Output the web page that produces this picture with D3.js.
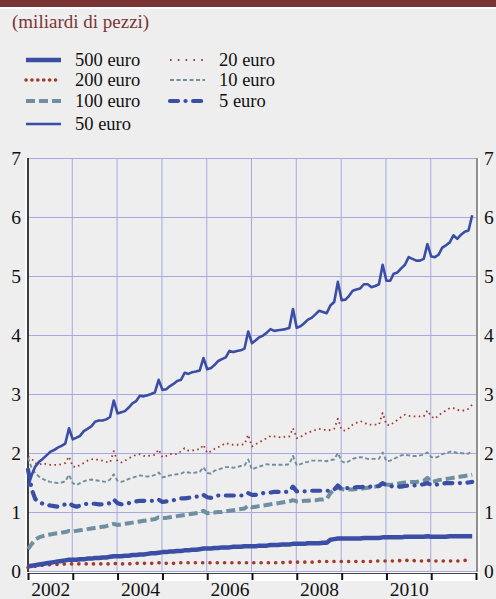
<!DOCTYPE html>
<html><head><meta charset="utf-8">
<script src="https://cdn.jsdelivr.net/npm/d3@7/dist/d3.min.js"></script>
<style>
html,body{margin:0;padding:0;background:#eeeeee;}
svg{display:block;font-family:"Liberation Serif","Times New Roman",serif;}
svg text{font-family:"Liberation Serif","Times New Roman",serif;}
</style></head>
<body><svg id="c" width="496" height="599"></svg>
<script>
const subtitle = "(miliardi di pezzi)";
const startMonth = new Date(2002, 0, 1);
const endMonth = new Date(2012, 0, 1);
const yTicks = [0, 1, 2, 3, 4, 5, 6, 7];
const yearLabels = [2002, 2004, 2006, 2008, 2010];

const e500 = [
0.08,0.09,0.10,0.11,0.12,0.13,0.14,0.15,0.16,0.17,0.18,0.19,
0.19,0.19,0.20,0.20,0.21,0.21,0.22,0.22,0.23,0.23,0.24,0.25,
0.25,0.25,0.26,0.26,0.27,0.27,0.28,0.28,0.29,0.30,0.30,0.31,
0.32,0.32,0.33,0.33,0.34,0.34,0.35,0.35,0.36,0.36,0.37,0.38,
0.38,0.38,0.39,0.39,0.40,0.40,0.40,0.41,0.41,0.41,0.42,0.42,
0.42,0.42,0.43,0.43,0.43,0.44,0.44,0.44,0.45,0.45,0.45,0.46,
0.46,0.46,0.46,0.47,0.47,0.47,0.47,0.48,0.48,0.53,0.54,0.55,
0.55,0.55,0.55,0.55,0.55,0.55,0.56,0.56,0.56,0.56,0.56,0.57,
0.57,0.57,0.57,0.57,0.57,0.58,0.58,0.58,0.58,0.58,0.58,0.59,
0.58,0.58,0.58,0.58,0.58,0.59,0.59,0.59,0.59,0.59,0.59,0.59];
const e200 = [
0.06,0.07,0.08,0.09,0.10,0.10,0.11,0.11,0.11,0.11,0.12,0.12,
0.12,0.12,0.12,0.12,0.12,0.12,0.12,0.12,0.12,0.12,0.12,0.13,
0.12,0.12,0.12,0.12,0.13,0.13,0.13,0.13,0.13,0.13,0.13,0.14,
0.13,0.13,0.13,0.13,0.14,0.14,0.14,0.14,0.14,0.14,0.14,0.14,
0.14,0.14,0.14,0.14,0.14,0.14,0.14,0.14,0.14,0.14,0.14,0.14,
0.14,0.14,0.14,0.14,0.14,0.14,0.14,0.14,0.14,0.15,0.15,0.15,
0.15,0.15,0.15,0.15,0.15,0.15,0.16,0.16,0.16,0.16,0.16,0.16,
0.16,0.16,0.16,0.16,0.16,0.16,0.16,0.16,0.16,0.17,0.17,0.17,
0.17,0.17,0.17,0.17,0.18,0.18,0.18,0.18,0.17,0.17,0.17,0.18,
0.17,0.17,0.17,0.17,0.17,0.17,0.17,0.17,0.17,0.18,0.18,0.18];
const e100 = [
0.37,0.46,0.53,0.57,0.59,0.61,0.62,0.63,0.64,0.65,0.66,0.68,
0.67,0.68,0.69,0.70,0.71,0.72,0.73,0.74,0.75,0.76,0.78,0.80,
0.78,0.79,0.80,0.81,0.82,0.83,0.84,0.85,0.86,0.87,0.88,0.91,
0.90,0.90,0.91,0.92,0.93,0.94,0.95,0.96,0.97,0.98,0.99,1.02,
0.98,0.99,0.99,1.00,1.00,1.01,1.02,1.03,1.04,1.05,1.06,1.11,
1.08,1.09,1.10,1.11,1.12,1.13,1.14,1.15,1.16,1.17,1.18,1.20,
1.18,1.18,1.19,1.19,1.20,1.20,1.21,1.21,1.22,1.32,1.38,1.41,
1.39,1.38,1.38,1.38,1.39,1.39,1.40,1.41,1.42,1.43,1.44,1.51,
1.46,1.46,1.47,1.48,1.49,1.50,1.50,1.51,1.51,1.52,1.53,1.58,
1.51,1.52,1.54,1.55,1.56,1.57,1.58,1.59,1.60,1.61,1.62,1.63];
const e50 = [
1.43,1.63,1.77,1.85,1.90,1.96,2.02,2.05,2.09,2.12,2.16,2.42,
2.23,2.26,2.29,2.37,2.41,2.45,2.53,2.55,2.55,2.57,2.61,2.89,
2.67,2.69,2.71,2.77,2.84,2.88,2.97,2.96,2.98,3.00,3.03,3.24,
3.07,3.08,3.13,3.17,3.22,3.24,3.36,3.34,3.37,3.38,3.40,3.61,
3.42,3.44,3.49,3.56,3.59,3.62,3.73,3.71,3.73,3.74,3.77,4.06,
3.86,3.91,3.96,3.99,4.04,4.10,4.07,4.08,4.09,4.10,4.12,4.44,
4.12,4.15,4.20,4.26,4.29,4.35,4.41,4.39,4.37,4.50,4.56,4.90,
4.59,4.60,4.66,4.75,4.77,4.79,4.86,4.86,4.81,4.83,4.86,5.19,
4.92,4.92,5.04,5.06,5.13,5.19,5.32,5.29,5.26,5.26,5.29,5.54,
5.33,5.32,5.36,5.48,5.52,5.57,5.69,5.63,5.70,5.75,5.77,6.03];
const e20 = [
1.94,1.90,1.83,1.80,1.83,1.81,1.80,1.80,1.80,1.81,1.83,1.94,
1.77,1.76,1.80,1.83,1.87,1.89,1.90,1.88,1.87,1.85,1.84,2.03,
1.86,1.84,1.87,1.91,1.94,1.97,1.98,1.95,1.95,1.96,1.97,2.06,
1.93,1.95,1.98,1.98,1.98,2.03,2.08,2.04,2.04,2.06,2.06,2.14,
2.00,2.03,2.07,2.10,2.13,2.17,2.15,2.14,2.14,2.14,2.15,2.31,
2.11,2.15,2.18,2.22,2.25,2.29,2.28,2.27,2.26,2.28,2.28,2.42,
2.25,2.27,2.32,2.34,2.37,2.39,2.41,2.40,2.38,2.39,2.41,2.58,
2.39,2.38,2.42,2.48,2.51,2.54,2.52,2.48,2.48,2.48,2.48,2.68,
2.48,2.47,2.52,2.56,2.61,2.65,2.63,2.62,2.62,2.62,2.62,2.72,
2.62,2.58,2.64,2.68,2.72,2.76,2.76,2.73,2.72,2.72,2.75,2.82];
const e10 = [
1.92,1.74,1.66,1.60,1.56,1.53,1.51,1.50,1.49,1.50,1.52,1.63,
1.49,1.46,1.49,1.52,1.54,1.55,1.54,1.53,1.52,1.51,1.55,1.64,
1.53,1.51,1.53,1.56,1.58,1.60,1.62,1.61,1.60,1.61,1.63,1.67,
1.59,1.60,1.62,1.63,1.64,1.65,1.68,1.67,1.66,1.67,1.68,1.76,
1.66,1.65,1.70,1.72,1.74,1.76,1.76,1.75,1.76,1.78,1.79,1.89,
1.72,1.75,1.77,1.79,1.81,1.80,1.80,1.80,1.80,1.80,1.81,1.95,
1.79,1.81,1.84,1.85,1.87,1.87,1.87,1.87,1.86,1.88,1.89,2.00,
1.86,1.83,1.86,1.90,1.92,1.93,1.92,1.90,1.90,1.90,1.90,2.01,
1.86,1.87,1.90,1.93,1.96,1.97,1.96,1.95,1.95,1.96,1.97,2.01,
1.93,1.92,1.94,1.98,2.00,2.02,2.02,2.00,2.00,1.99,1.99,2.04];
const e5 = [
1.72,1.38,1.22,1.17,1.14,1.12,1.11,1.10,1.09,1.11,1.13,1.15,
1.11,1.09,1.11,1.13,1.14,1.14,1.14,1.13,1.13,1.14,1.15,1.21,
1.15,1.13,1.14,1.15,1.17,1.18,1.19,1.19,1.19,1.19,1.19,1.21,
1.17,1.18,1.19,1.20,1.22,1.23,1.23,1.24,1.25,1.26,1.26,1.29,
1.25,1.24,1.26,1.28,1.28,1.28,1.28,1.28,1.28,1.28,1.28,1.32,
1.29,1.29,1.31,1.32,1.33,1.33,1.34,1.34,1.34,1.34,1.35,1.43,
1.35,1.35,1.35,1.35,1.36,1.36,1.36,1.36,1.36,1.36,1.38,1.45,
1.39,1.40,1.41,1.41,1.42,1.42,1.43,1.43,1.43,1.43,1.44,1.49,
1.45,1.44,1.43,1.43,1.43,1.44,1.45,1.45,1.45,1.46,1.47,1.49,
1.46,1.46,1.47,1.48,1.49,1.49,1.49,1.49,1.49,1.49,1.50,1.51];

const seriesNames = ["500 euro","200 euro","100 euro","50 euro","20 euro","10 euro","5 euro"];
const seriesValues = [e500, e200, e100, e50, e20, e10, e5];

const FONT = "Liberation Serif";
const BLUE = "#3a4ea6", RED = "#a23b2e", GREY = "#6f8fa0";
const styles = {
  "500 euro": {color: BLUE, w: 4.5, dash: null, cap: "butt"},
  "200 euro": {color: RED, w: 3.6, dash: "0.1 7.2", cap: "round"},
  "100 euro": {color: GREY, w: 4, dash: "9 4", cap: "butt"},
  "50 euro": {color: BLUE, w: 2.6, dash: null, cap: "butt"},
  "20 euro": {color: RED, w: 1.8, dash: "1.6 3.4", cap: "butt"},
  "10 euro": {color: GREY, w: 1.9, dash: "4 2.5", cap: "butt"},
  "5 euro": {color: BLUE, w: 4.2, dash: "8 7.5 0.1 7.5", cap: "round"}
};

const months = d3.timeMonth.range(startMonth, endMonth);
const svg = d3.select("#c");
const L = 28, R = 476, T = 158, B = 571;

svg.append("rect").attr("x",0).attr("y",0).attr("width",496).attr("height",599).attr("fill","#eeeeee");
svg.append("rect").attr("x",0).attr("y",0).attr("width",496).attr("height",7).attr("fill","#7b3333");
svg.append("rect").attr("x",0).attr("y",7).attr("width",496).attr("height",2).attr("fill","#ffffff");

svg.append("text").attr("x",12).attr("y",28).attr("fill","#7b3535").attr("font-family",FONT).attr("font-size",19).text(subtitle);

const x = d3.scaleTime().domain([startMonth, endMonth]).range([L, R]);
const y = d3.scaleLinear().domain([0, 7]).range([B, T]);

// grid
const gGrid = svg.append("g");
gGrid.append("g").attr("transform",`translate(${L},0)`)
  .call(d3.axisLeft(y).tickValues(yTicks).tickSize(-(R-L)).tickFormat(""))
  .call(g => { g.select(".domain").remove(); g.selectAll("line").attr("stroke","#a8a8e2").attr("stroke-width",1); });
gGrid.append("g").attr("transform",`translate(-1,${B})`)
  .call(d3.axisBottom(x).ticks(d3.timeYear.every(1)).tickSize(-(B-T)).tickFormat(""))
  .call(g => { g.select(".domain").remove();
    g.selectAll(".tick").filter(d => +d === +startMonth || +d === +endMonth).remove();
    g.selectAll("line").attr("stroke","#a8a8e2").attr("stroke-width",1); });

// bottom axis band
svg.append("rect").attr("x",L-2).attr("y",B+1).attr("width",R-L+6).attr("height",9).attr("fill","#ffffff");
svg.append("line").attr("x1",L).attr("x2",R+1).attr("y1",B+2.5).attr("y2",B+2.5).attr("stroke","#444").attr("stroke-width",1);
svg.append("g").attr("transform",`translate(0,${B+2})`)
  .call(d3.axisBottom(x).ticks(d3.timeYear.every(1)).tickSize(7).tickFormat(""))
  .call(g => { g.select(".domain").remove(); g.selectAll("line").attr("stroke","#111").attr("stroke-width",2); });

// year labels
svg.append("g").attr("transform",`translate(0,${B})`)
  .call(d3.axisBottom(x).tickValues(yearLabels.map(yy => new Date(yy, 6, 1))).tickSize(0).tickFormat(d3.timeFormat("%Y")))
  .call(g => { g.select(".domain").remove();
    g.selectAll("text").attr("font-family",FONT).attr("font-size",19.5).attr("fill","#111").attr("y",25).attr("dy",0); });

// left / right axes
svg.append("line").attr("x1",L).attr("x2",L).attr("y1",T).attr("y2",B+1).attr("stroke","#111").attr("stroke-width",1.6);
svg.append("line").attr("x1",L-2).attr("x2",L-2).attr("y1",T).attr("y2",B).attr("stroke","#fff").attr("stroke-width",1.5);
svg.append("line").attr("x1",R+1).attr("x2",R+1).attr("y1",T).attr("y2",B+1).attr("stroke","#777").attr("stroke-width",1.6);
svg.append("line").attr("x1",R+3).attr("x2",R+3).attr("y1",T).attr("y2",B).attr("stroke","#fff").attr("stroke-width",1.5);

svg.append("g").attr("transform",`translate(${L-7},0)`)
  .call(d3.axisLeft(y).tickValues(yTicks).tickSize(0).tickPadding(0).tickFormat(d3.format("d")))
  .call(g => { g.select(".domain").remove();
    g.selectAll("text").attr("font-family",FONT).attr("font-size",19.5).attr("fill","#111"); });
svg.append("g").attr("transform",`translate(${R+8},0)`)
  .call(d3.axisRight(y).tickValues(yTicks).tickSize(0).tickPadding(0).tickFormat(d3.format("d")))
  .call(g => { g.select(".domain").remove();
    g.selectAll("text").attr("font-family",FONT).attr("font-size",19.5).attr("fill","#111"); });

// lines
const line = d3.line().x((d,i) => x(months[i])).y(d => y(d));
const order = ["200 euro","500 euro","100 euro","10 euro","20 euro","5 euro","50 euro"];
order.forEach(name => {
  const s = styles[name];
  const vals = seriesValues[seriesNames.indexOf(name)];
  svg.append("path").datum(vals).attr("d", line)
    .attr("fill","none").attr("stroke", s.color).attr("stroke-width", s.w)
    .attr("stroke-dasharray", s.dash).attr("stroke-linecap", s.cap).attr("stroke-linejoin","round");
});

// legend
const legendPos = {
  "500 euro": [26, 60], "200 euro": [26, 80], "100 euro": [26, 101], "50 euro": [26, 124],
  "20 euro": [170, 60], "10 euro": [170, 80], "5 euro": [170, 101]
};
seriesNames.forEach(name => {
  const [lx, ly] = legendPos[name];
  const s = styles[name];
  svg.append("line").attr("x1", lx).attr("x2", lx + 35).attr("y1", ly).attr("y2", ly)
    .attr("stroke", s.color).attr("stroke-width", name === "500 euro" ? 4.5 : s.w)
    .attr("stroke-dasharray", name === "200 euro" ? "0.1 5.8" : (name === "20 euro" ? "1.6 6.2" : s.dash))
    .attr("stroke-linecap", s.cap);
  svg.append("text").attr("x", lx + 49).attr("y", ly + 6).attr("font-family",FONT).attr("font-size", 18.5).attr("fill", "#111").text(name);
});
</script></body></html>
